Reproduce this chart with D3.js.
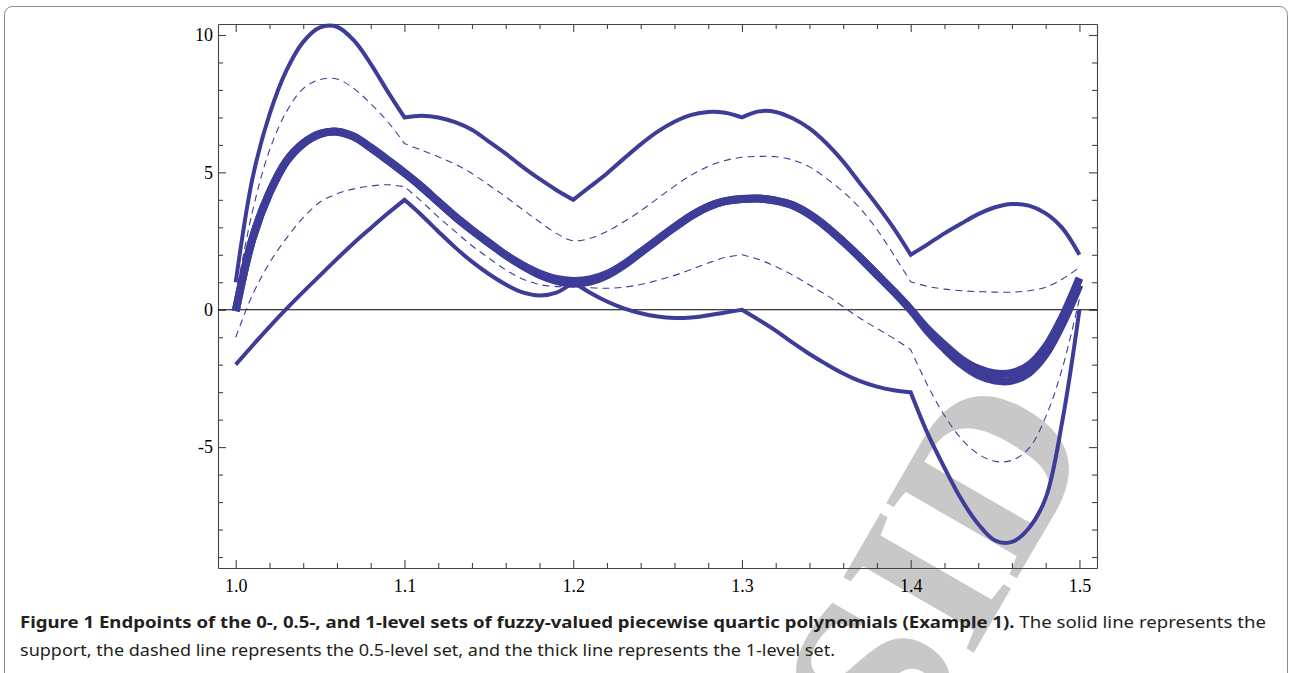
<!DOCTYPE html>
<html>
<head>
<meta charset="utf-8">
<script src="https://cdn.jsdelivr.net/npm/d3@7"></script>
<style>
body { margin: 0; background: #fff; }
svg { display: block; }
</style>
</head>
<body>
<svg></svg>
<script>
const xValues = [
  1.00, 1.01, 1.02, 1.03, 1.04, 1.05, 1.06, 1.07, 1.08, 1.09, 1.10,
  1.11, 1.12, 1.13, 1.14, 1.15, 1.16, 1.17, 1.18, 1.19, 1.20,
  1.21, 1.22, 1.23, 1.24, 1.25, 1.26, 1.27, 1.28, 1.29, 1.30,
  1.31, 1.32, 1.33, 1.34, 1.35, 1.36, 1.37, 1.38, 1.39, 1.40,
  1.41, 1.42, 1.43, 1.44, 1.45, 1.46, 1.47, 1.48, 1.49, 1.50
];

// support (0-level set), solid lines
const supportUpper = [
  1.0, 4.8, 7.1, 8.7, 9.75, 10.28, 10.3, 9.8, 8.95, 7.95, 7.0,
  7.06, 7.0, 6.83, 6.55, 6.12, 5.68, 5.2, 4.76, 4.36, 4.0,
  4.48, 4.96, 5.5, 6.02, 6.48, 6.84, 7.09, 7.2, 7.17, 7.0,
  7.22, 7.2, 6.97, 6.6, 6.06, 5.39, 4.6, 3.81, 2.96, 2.0,
  2.38, 2.78, 3.14, 3.48, 3.73, 3.85, 3.79, 3.51, 2.96, 2.0
];
const supportLower = [
  -2.0, -1.3, -0.62, 0.03, 0.65, 1.25, 1.85, 2.43, 2.97, 3.5, 4.0,
  3.45, 2.85, 2.27, 1.75, 1.3, 0.92, 0.63, 0.52, 0.62, 1.0,
  0.62, 0.3, 0.05, -0.13, -0.25, -0.3, -0.28, -0.2, -0.1, 0.0,
  -0.37, -0.76, -1.2, -1.61, -1.98, -2.32, -2.6, -2.8, -2.93, -3.0,
  -4.5, -5.75, -6.9, -7.8, -8.4, -8.45, -7.95, -6.85, -4.0, 0.0
];

// 0.5-level set, dashed lines
const halfUpper = [
  0.5, 3.6, 5.8, 7.2, 8.05, 8.38, 8.4, 8.05, 7.5, 6.85, 6.05,
  5.81, 5.57, 5.3, 4.96, 4.54, 4.11, 3.65, 3.2, 2.78, 2.51,
  2.6, 2.85, 3.2, 3.6, 4.05, 4.5, 4.9, 5.22, 5.43, 5.55,
  5.58, 5.57, 5.45, 5.2, 4.78, 4.29, 3.69, 2.92, 1.99, 1.02,
  0.85, 0.75, 0.69, 0.66, 0.64, 0.64, 0.69, 0.82, 1.12, 1.54
];
const halfLower = [
  -1.0, 0.55, 1.7, 2.6, 3.35, 3.92, 4.22, 4.4, 4.5, 4.55, 4.48,
  3.95, 3.38, 2.85, 2.33, 1.88, 1.45, 1.12, 0.92, 0.84, 0.84,
  0.8, 0.78, 0.82, 0.92, 1.07, 1.25, 1.47, 1.7, 1.9, 2.0,
  1.83, 1.57, 1.26, 0.9, 0.54, 0.11, -0.31, -0.68, -1.05, -1.45,
  -2.75, -3.85, -4.7, -5.25, -5.52, -5.48, -5.05, -3.9, -2.1, 0.4
];

// 1-level set, thick lines
const coreLower = [
  -0.05, 2.6, 4.25, 5.4, 6.05, 6.4, 6.48, 6.3, 5.9, 5.45, 4.98,
  4.48, 3.93, 3.39, 2.9, 2.44, 1.99, 1.6, 1.27, 1.05, 0.95,
  1.02, 1.25, 1.62, 2.08, 2.55, 3.0, 3.42, 3.75, 3.95, 4.03,
  4.05, 3.97, 3.8, 3.47, 3.02, 2.48, 1.9, 1.28, 0.66, 0.0,
  -0.78, -1.42, -1.98, -2.38, -2.58, -2.58, -2.3, -1.62, -0.5, 0.9
];
const coreUpper = [
  -0.05, 2.6, 4.25, 5.4, 6.05, 6.4, 6.48, 6.3, 5.9, 5.45, 4.98,
  4.48, 3.93, 3.39, 2.9, 2.44, 1.99, 1.62, 1.32, 1.12, 1.05,
  1.1, 1.3, 1.65, 2.1, 2.55, 3.0, 3.42, 3.75, 3.95, 4.03,
  4.05, 3.97, 3.8, 3.47, 3.02, 2.48, 1.9, 1.28, 0.66, 0.0,
  -0.7, -1.28, -1.8, -2.15, -2.32, -2.3, -2.02, -1.35, -0.25, 1.15
];

const xMajorTicks = [1.0, 1.1, 1.2, 1.3, 1.4, 1.5];
const xTickLabels = ["1.0", "1.1", "1.2", "1.3", "1.4", "1.5"];
const yMajorTicks = [-5, 0, 5, 10];
const yTickLabels = ["-5", "0", "5", "10"];

const captionBold = "Figure 1 Endpoints of the 0-, 0.5-, and 1-level sets of fuzzy-valued piecewise quartic polynomials (Example 1).";
const captionRest = " The solid line represents the";
const captionLine2 = "support, the dashed line represents the 0.5-level set, and the thick line represents the 1-level set.";

let width = 1291;
let height = 673;
let svg = d3.select('svg').attr('width', width).attr('height', height);

const lineColor = '#3d3c98';
const axisColor = '#444';

const xScale = d3.scaleLinear().domain([0.9895, 1.5104]).range([218, 1097]);
const yScale = d3.scaleLinear().domain([-9.4, 10.4]).range([568, 24]);

const xMinorTicks = d3.range(1.0, 1.51, 0.02).filter(t => !xMajorTicks.some(m => Math.abs(m - t) < 1e-6));
const yMinorTicks = d3.range(-9, 11, 1).filter(t => !yMajorTicks.includes(t));

const drawWatermark = () => {
  svg.append('text')
     .attr('transform', 'translate(1002, 604) rotate(-60)')
     .attr('text-anchor', 'middle')
     .style('font-family', 'Liberation Serif')
     .style('font-weight', 'bold')
     .style('font-size', '230px')
     .style('fill', '#c8c8c8')
     .text('SID');
};

const drawBorder = () => {
  svg.append('rect')
     .attr('x', 4.5).attr('y', 6.5)
     .attr('width', 1283).attr('height', 720)
     .attr('rx', 8)
     .attr('fill', 'none')
     .attr('stroke', '#8a8a8a')
     .attr('stroke-width', 1);
};

const styleAxis = (g) => {
  g.selectAll('path, line').attr('stroke', axisColor).attr('stroke-width', 1.1);
  g.selectAll('text')
   .style('font-family', 'Liberation Serif')
   .style('font-size', '18px')
   .attr('fill', '#000');
};

const drawAxes = () => {
  const [x0, x1] = xScale.range();
  const [yb, yt] = yScale.range();

  const axes = [
    { axis: d3.axisBottom, scale: xScale, pos: `translate(0,${yb})`, ticks: xMajorTicks, labels: xTickLabels, minor: xMinorTicks, pad: 11 },
    { axis: d3.axisTop, scale: xScale, pos: `translate(0,${yt})`, ticks: xMajorTicks, labels: null, minor: xMinorTicks, pad: 0 },
    { axis: d3.axisLeft, scale: yScale, pos: `translate(${x0},0)`, ticks: yMajorTicks, labels: yTickLabels, minor: yMinorTicks, pad: 5 },
    { axis: d3.axisRight, scale: yScale, pos: `translate(${x1},0)`, ticks: yMajorTicks, labels: null, minor: yMinorTicks, pad: 0 }
  ];

  axes.forEach(a => {
    svg.append('g')
       .attr('transform', a.pos)
       .call(a.axis(a.scale).tickValues(a.minor).tickSize(-5).tickSizeOuter(0).tickFormat(''))
       .call(g => g.select('.domain').remove())
       .call(styleAxis);

    svg.append('g')
       .attr('transform', a.pos)
       .call(a.axis(a.scale)
              .tickValues(a.ticks)
              .tickSize(-8)
              .tickSizeOuter(0)
              .tickPadding(a.pad)
              .tickFormat((d, i) => a.labels ? a.labels[i] : ''))
       .call(styleAxis);
  });

  // zero line
  svg.append('line')
     .attr('x1', x0).attr('x2', x1)
     .attr('y1', yScale(0)).attr('y2', yScale(0))
     .attr('stroke', '#000')
     .attr('stroke-width', 1.1);
};

const lineGen = d3.line()
  .x(d => xScale(d[0]))
  .y(d => yScale(d[1]))
  .curve(d3.curveCatmullRom.alpha(0.5));

// one path, smooth inside each piece, with corners at the kinks
const piecePath = (values, kinks) => {
  const cuts = [0, ...kinks.map(k => xValues.indexOf(k)), xValues.length - 1];
  let d = '';
  for (let i = 0; i < cuts.length - 1; i++) {
    const pts = d3.range(cuts[i], cuts[i + 1] + 1).map(j => [xValues[j], values[j]]);
    let s = lineGen(pts);
    if (i > 0) s = s.replace(/^M[^CL]*/, '');
    d += s;
  }
  return d;
};

const drawCurves = () => {
  const series = [
    { values: halfUpper, kinks: [1.1, 1.4], w: 1.1, dash: '7,5' },
    { values: halfLower, kinks: [1.1, 1.3, 1.4], w: 1.1, dash: '7,5' },
    { values: supportUpper, kinks: [1.1, 1.2, 1.3, 1.4], w: 4, dash: null },
    { values: supportLower, kinks: [1.1, 1.2, 1.3, 1.4], w: 4, dash: null },
    { values: coreLower, kinks: [], w: 8, dash: null },
    { values: coreUpper, kinks: [], w: 8, dash: null }
  ];

  svg.append('g')
     .selectAll('path')
     .data(series)
     .enter()
     .append('path')
     .attr('d', s => piecePath(s.values, s.kinks))
     .attr('fill', 'none')
     .attr('stroke', lineColor)
     .attr('stroke-width', s => s.w)
     .attr('stroke-dasharray', s => s.dash)
     .attr('stroke-linejoin', 'miter')
     .attr('stroke-miterlimit', 4)
     .attr('stroke-linecap', 'butt');
};

const drawCaption = () => {
  const line1 = svg.append('text')
     .attr('x', 20).attr('y', 628)
     .attr('textLength', 1246)
     .attr('lengthAdjust', 'spacingAndGlyphs')
     .style('font-family', 'Noto Sans')
     .style('font-size', '16px')
     .attr('fill', '#231f20');
  line1.append('tspan').style('font-weight', 'bold').text(captionBold);
  line1.append('tspan').text(captionRest);

  svg.append('text')
     .attr('x', 20).attr('y', 656)
     .attr('textLength', 815)
     .attr('lengthAdjust', 'spacingAndGlyphs')
     .style('font-family', 'Noto Sans')
     .style('font-size', '16px')
     .attr('fill', '#231f20')
     .text(captionLine2);
};

drawWatermark();
drawBorder();
drawAxes();
drawCurves();
drawCaption();
</script>
</body>
</html>
